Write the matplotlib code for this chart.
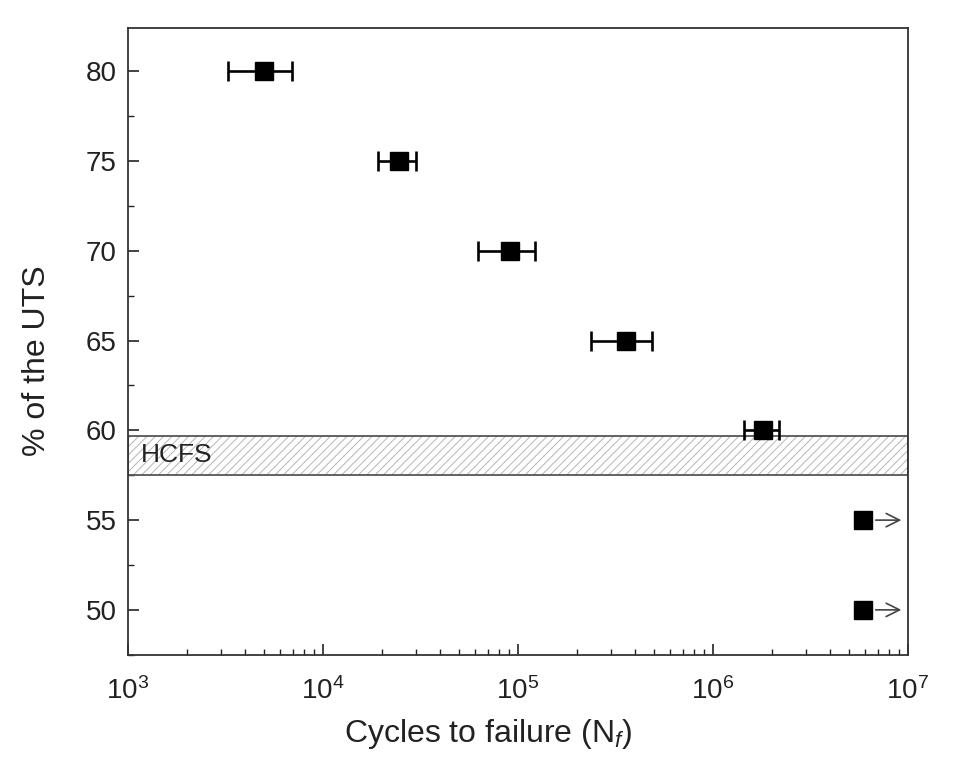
import matplotlib
matplotlib.use("Agg")
from matplotlib import pyplot as plt
from matplotlib.ticker import MultipleLocator, LogLocator

plt.rcParams['font.family'] = ['Liberation Sans', 'DejaVu Sans']
plt.rcParams['mathtext.fontset'] = 'custom'
plt.rcParams['mathtext.rm'] = 'Liberation Sans'
plt.rcParams['mathtext.it'] = 'Liberation Sans:italic'
plt.rcParams['hatch.linewidth'] = 0.7

# failed specimens: stress level, mean cycles, lower/upper bounds
stress = [80, 75, 70, 65, 60]
cycles = [5000, 24500, 91000, 358000, 1.8e6]
cyc_low = [3250, 19100, 62400, 237000, 1.44e6]
cyc_high = [6950, 30000, 123000, 486000, 2.18e6]

# runouts (no failure)
runout_stress = [55, 50]
runout_cycles = [5.9e6, 5.9e6]

# high cycle fatigue strength band
hcfs_low = 57.5
hcfs_high = 59.7

fig = plt.figure(figsize=(9.69, 7.64), dpi=100)
ax = fig.add_axes([0.132, 0.143, 0.805, 0.82])

# HCFS band: hatch first, then the border
ax.axhspan(hcfs_low, hcfs_high, facecolor='white', edgecolor='#b5b5b5',
           hatch='////', linewidth=0, zorder=1)
ax.axhspan(hcfs_low, hcfs_high, fill=False, edgecolor='#555555',
           linewidth=1.3, zorder=2)
ax.text(1160, (hcfs_low + hcfs_high) / 2, 'HCFS', fontsize=19,
        va='center', ha='left', color='#222222', zorder=3)

xerr = [[c - l for c, l in zip(cycles, cyc_low)],
        [h - c for c, h in zip(cycles, cyc_high)]]
ax.errorbar(cycles, stress, xerr=xerr, fmt='s', color='black',
            markersize=13, elinewidth=1.9, capsize=7, capthick=1.9, zorder=4)

ax.plot(runout_cycles, runout_stress, 's', color='black', markersize=13, zorder=4)
for x, y in zip(runout_cycles, runout_stress):
    ax.annotate('', xy=(x * 1.62, y), xytext=(x * 1.12, y),
                arrowprops=dict(arrowstyle='->', color='#444444', lw=1.2,
                                mutation_scale=24), zorder=4)

ax.set_xscale('log')
ax.set_xlim(1e3, 1e7)
ax.set_ylim(47.5, 82.4)
ax.yaxis.set_major_locator(MultipleLocator(5))
ax.yaxis.set_minor_locator(MultipleLocator(2.5))
ax.xaxis.set_major_locator(LogLocator(base=10, numticks=10))
ax.xaxis.set_minor_locator(LogLocator(base=10, subs=range(2, 10), numticks=20))

ax.tick_params(which='both', direction='in', top=False, right=False,
               labelsize=20, colors='#222222')
ax.tick_params(which='major', length=8, width=1.2, pad=8)
ax.tick_params(which='minor', length=4, width=1.0)
ax.tick_params(axis='x', which='major', pad=16)
for s in ax.spines.values():
    s.set_linewidth(1.3)
    s.set_color('#333333')

ax.set_xlabel('Cycles to failure (N$_{f}$)', fontsize=23, color='#222222')
ax.set_ylabel('% of the UTS', fontsize=23, color='#222222')
ax.xaxis.set_label_coords(0.4615, -0.100)
ax.yaxis.set_label_coords(-0.097, 0.47)

fig.savefig('out.png', dpi=100)
